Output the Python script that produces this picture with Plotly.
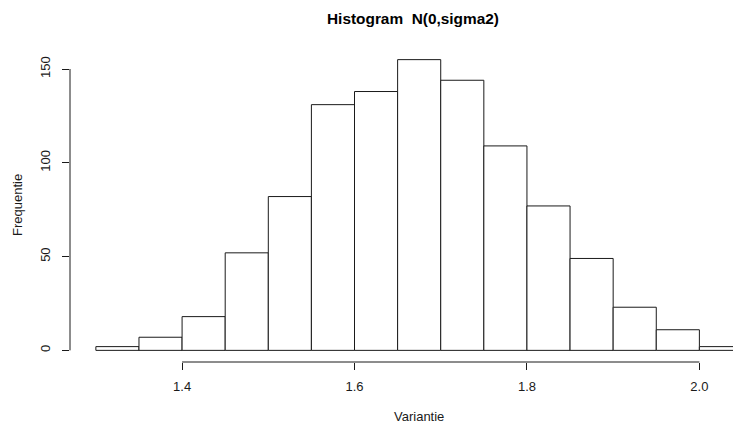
import plotly.graph_objects as go

# Histogram bins (left edges, width 0.05) and counts
bin_left = [1.30, 1.35, 1.40, 1.45, 1.50, 1.55, 1.60, 1.65, 1.70, 1.75,
            1.80, 1.85, 1.90, 1.95, 2.00]
bin_width = 0.05
counts = [2, 7, 18, 52, 82, 131, 138, 155, 144, 109, 77, 49, 23, 11, 2]

x_ticks = [1.4, 1.6, 1.8, 2.0]
x_tick_labels = ["1.4", "1.6", "1.8", "2.0"]
y_ticks = [0, 50, 100, 150]
y_tick_labels = ["0", "50", "100", "150"]

title_text = "Histogram  N(0,sigma2)"
x_title = "Variantie"
y_title = "Frequentie"

FONT = "Liberation Sans, Arial, sans-serif"
INK = "#1a1a1a"

centers = [l + bin_width / 2 for l in bin_left]

fig = go.Figure(
    go.Bar(
        x=centers,
        y=counts,
        width=[bin_width] * len(counts),
        marker=dict(color="white", line=dict(color=INK, width=1)),
        hoverinfo="x+y",
    )
)

# R-style 4% padding around the data range
y_max = max(counts)
y_pad = 0.04 * y_max
x_lo = bin_left[0] - 0.04 * (bin_left[-1] + bin_width - bin_left[0])

fig.update_layout(
    width=733,
    height=425,
    margin=dict(l=70, r=0, t=48, b=63),
    paper_bgcolor="white",
    plot_bgcolor="white",
    showlegend=False,
    font=dict(family=FONT, size=13, color=INK),
    xaxis=dict(
        range=[x_lo, 2.039],
        tickmode="array",
        tickvals=x_ticks,
        ticktext=x_tick_labels,
        ticks="outside",
        ticklen=7,
        tickwidth=1,
        tickcolor=INK,
        ticklabelstandoff=5,
        showgrid=False,
        zeroline=False,
        showline=False,
        tickfont=dict(size=13, color=INK),
    ),
    yaxis=dict(
        range=[-y_pad, y_max + y_pad],
        tickmode="array",
        tickvals=y_ticks,
        ticktext=y_tick_labels,
        tickangle=-90,
        ticks="outside",
        ticklen=7,
        tickwidth=1,
        tickcolor=INK,
        ticklabelstandoff=7,
        showgrid=False,
        zeroline=False,
        showline=False,
        tickfont=dict(size=13, color=INK),
    ),
    shapes=[
        # y axis line spanning the tick range
        dict(type="line", xref="paper", yref="y", x0=0, x1=0,
             y0=min(y_ticks), y1=max(y_ticks), line=dict(color=INK, width=1)),
        # x axis line spanning the tick range
        dict(type="line", xref="x", yref="paper", x0=min(x_ticks), x1=max(x_ticks),
             y0=0, y1=0, line=dict(color=INK, width=1)),
    ],
    annotations=[
        dict(text="<b>" + title_text + "</b>", xref="paper", yref="paper",
             x=0.517, y=1, yshift=30, xanchor="center", yanchor="middle",
             showarrow=False, font=dict(size=15.4, color="black", family=FONT)),
        dict(text=x_title, xref="paper", yref="paper", x=0.526, y=0,
             yshift=-54, xanchor="center", yanchor="middle", showarrow=False,
             font=dict(size=13, color=INK)),
        dict(text=y_title, xref="paper", yref="paper", x=0, y=0.5,
             xshift=-53, xanchor="center", yanchor="middle", textangle=-90,
             showarrow=False, font=dict(size=13, color=INK)),
    ],
)

fig.write_html("out.html")
